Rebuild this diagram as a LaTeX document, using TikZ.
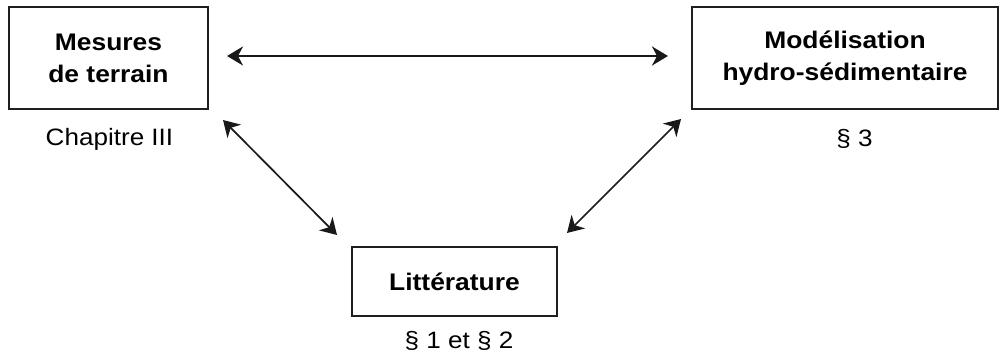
\documentclass[tikz,border=0pt]{standalone}
\usepackage{fontspec}
\setmainfont{Liberation Sans}[FakeStretch=1.1]
\usetikzlibrary{arrows.meta}
\begin{document}
\begin{tikzpicture}[x=1pt,y=-1pt,
  box/.style={draw=black!88, line width=1.7pt, inner sep=0pt, align=center,
    font=\bfseries\fontsize{24}{32}\selectfont},
  lbl/.style={anchor=base, inner sep=0pt, font=\fontsize{23.7}{28}\selectfont},
  link/.style={draw=black!90, line width=1.7pt,
    {Stealth[length=16pt,width=19pt,inset=5pt]}-{Stealth[length=16pt,width=19pt,inset=5pt]}}]
\useasboundingbox (0,0) rectangle (1000,358);
\node[box, minimum width=199pt, minimum height=102pt] (mes) at (108.5,58) {Mesures\\de terrain};
\node[box, minimum width=306pt, minimum height=102pt] (mod) at (845,58) {Modélisation\\hydro-sédimentaire};
\node[box, minimum width=205pt, minimum height=69pt] (lit) at (454.5,281.5) {Littérature};
\node[lbl] (chap) at (109.5,146) {Chapitre III};
\node[lbl] (s3) at (854.5,147) {§ 3};
\node[lbl] (s12) at (459,348) {§ 1 et § 2};
\coordinate (h1) at (227,56);
\coordinate (h2) at (668,56);
\coordinate (d1) at (223,120);
\coordinate (d2) at (337,235);
\coordinate (d3) at (681,119);
\coordinate (d4) at (567,233);
\draw[link] (h1) -- (h2);
\draw[link] (d1) -- (d2);
\draw[link] (d3) -- (d4);
\end{tikzpicture}
\end{document}
